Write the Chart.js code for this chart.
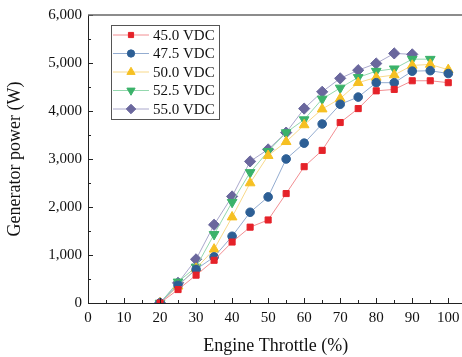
<!DOCTYPE html>
<html>
<head>
<meta charset="utf-8">
<script src="https://cdn.jsdelivr.net/npm/chart.js@4"></script>
<style>
  html, body { margin: 0; padding: 0; background: #fff; overflow: hidden; }
  #wrap { width: 470px; height: 357px; }
</style>
</head>
<body>
<div id="wrap"><canvas id="power-chart"></canvas></div>
<script>
// Engine throttle (%) and generator power (W) per bus voltage
var throttle = [20, 25, 30, 35, 40, 45, 50, 55, 60, 65, 70, 75, 80, 85, 90, 95, 100];
var power450 = [0, 280, 580, 890, 1270, 1580, 1730, 2280, 2840, 3180, 3760, 4050, 4420, 4450, 4630, 4630, 4590];
var power475 = [0, 370, 700, 960, 1390, 1890, 2210, 3000, 3330, 3730, 4140, 4290, 4590, 4590, 4830, 4840, 4780];
var power500 = [0, 350, 720, 1120, 1790, 2500, 3070, 3360, 3710, 4040, 4260, 4590, 4700, 4750, 4950, 4970, 4860];
var power525 = [0, 440, 750, 1430, 2100, 2720, 3160, 3550, 3820, 4250, 4480, 4700, 4830, 4880, 5080, 5080];
var power550 = [0, 420, 910, 1630, 2220, 2950, 3200, 3550, 4050, 4400, 4680, 4850, 4990, 5200, 5180];
var seriesLabels = ['45.0 VDC', '47.5 VDC', '50.0 VDC', '52.5 VDC', '55.0 VDC'];
var xTicks = [0, 10, 20, 30, 40, 50, 60, 70, 80, 90, 100];

var serif = '"Liberation Serif", "Times New Roman", serif';

function pts(values) {
    return values.map(function (v, i) { return { x: throttle[i], y: v }; });
}

function makeSet(label, values, marker, line, style, radius, rotation) {
    return {
        label: label,
        data: pts(values),
        borderColor: line,
        borderWidth: 1,
        backgroundColor: marker,
        pointBackgroundColor: marker,
        pointBorderColor: marker,
        pointBorderWidth: 1,
        pointStyle: style,
        pointRadius: radius,
        pointRotation: rotation || 0,
        tension: 0,
        fill: false
    };
}

var datasets = [
    makeSet(seriesLabels[0], power450, '#e52229', '#f28e92', 'rect', 4.3),
    makeSet(seriesLabels[1], power475, '#2d5f95', '#93acd0', 'circle', 4.3),
    makeSet(seriesLabels[2], power500, '#f6c022', '#f8d98a', 'triangle', 5.6),
    makeSet(seriesLabels[3], power525, '#3bb26a', '#94d8ae', 'triangle', 5.6, 180),
    makeSet(seriesLabels[4], power550, '#6a679d', '#aaa8cc', 'rectRot', 5.6)
];

// inward ticks, top frame line and the boxed legend
var framePlugin = {
    id: 'frame',
    afterDraw: function (chart) {
        var ctx = chart.ctx;
        var area = chart.chartArea;
        var xs = chart.scales.x, ys = chart.scales.y;
        ctx.save();
        ctx.strokeStyle = '#222';
        ctx.lineWidth = 1;
        ctx.beginPath();
        for (var t = 0; t <= 100; t += 5) {
            var px = Math.round(xs.getPixelForValue(t)) + 0.5;
            var len = (t % 10 === 0) ? 5 : 3;
            ctx.moveTo(px, area.bottom);
            ctx.lineTo(px, area.bottom - len);
        }
        for (var v = 0; v <= 6000; v += 500) {
            var py = Math.round(ys.getPixelForValue(v)) + 0.5;
            var l2 = (v % 1000 === 0) ? 5 : 3;
            ctx.moveTo(area.left, py);
            ctx.lineTo(area.left + l2, py);
        }
        ctx.stroke();
        // top frame
        ctx.strokeStyle = '#666';
        ctx.lineWidth = 1.5;
        ctx.beginPath();
        ctx.moveTo(area.left, area.top);
        ctx.lineTo(area.right, area.top);
        ctx.stroke();

        // legend
        var bx = 111.5, by = 25.5, bw = 108, bh = 94;
        ctx.strokeStyle = '#555';
        ctx.lineWidth = 1;
        ctx.strokeRect(bx, by, bw, bh);
        ctx.font = '15px ' + serif;
        ctx.textBaseline = 'middle';
        chart.data.datasets.forEach(function (ds, i) {
            var cy = 35 + i * 18.5;
            ctx.strokeStyle = ds.borderColor;
            ctx.lineWidth = 1;
            ctx.beginPath();
            ctx.moveTo(113, cy);
            ctx.lineTo(149, cy);
            ctx.stroke();
            ctx.fillStyle = ds.pointBackgroundColor;
            ctx.strokeStyle = ds.pointBorderColor;
            Chart.helpers.drawPoint(ctx, {
                pointStyle: ds.pointStyle,
                radius: ds.pointRadius * 0.85,
                rotation: ds.pointRotation,
                borderWidth: 1
            }, 131, cy);
            ctx.fillStyle = '#111';
            ctx.fillText(ds.label, 153, cy + 1);
        });
        ctx.restore();
    }
};

var powerChart = new Chart(document.getElementById('power-chart'), {
    type: 'line',
    data: { datasets: datasets },
    options: {
        responsive: true,
        maintainAspectRatio: false,
        animation: false,
        layout: { padding: { top: 14, left: 0, right: 0, bottom: 0 } },
        plugins: { legend: { display: false }, tooltip: { enabled: false } },
        scales: {
            x: {
                type: 'linear',
                min: 0,
                max: 104.2,
                afterBuildTicks: function (scale) {
                    scale.ticks = xTicks.map(function (v) { return { value: v }; });
                },
                afterFit: function (scale) {
                    scale.height = 54;
                },
                grid: { display: false, drawTicks: false },
                border: { display: true, color: '#222', width: 1 },
                ticks: {
                    padding: 6,
                    color: '#111',
                    font: { family: serif, size: 15 },
                    maxRotation: 0,
                    autoSkip: false
                },
                title: {
                    display: true,
                    text: 'Engine Throttle (%)',
                    color: '#111',
                    font: { family: serif, size: 18 },
                    padding: { top: 10, bottom: 0 }
                }
            },
            y: {
                min: 0,
                max: 6000,
                afterFit: function (scale) {
                    scale.width = 88;
                },
                grid: { display: false, drawTicks: false },
                border: { display: true, color: '#222', width: 1 },
                ticks: {
                    stepSize: 1000,
                    padding: 6,
                    color: '#111',
                    font: { family: serif, size: 15 },
                    callback: function (v) { return v.toLocaleString('en-US'); }
                },
                title: {
                    display: true,
                    text: 'Generator power (W)',
                    color: '#111',
                    font: { family: serif, size: 18 },
                    padding: { top: 4, bottom: 0 }
                }
            }
        }
    },
    plugins: [framePlugin]
});
</script>
</body>
</html>
